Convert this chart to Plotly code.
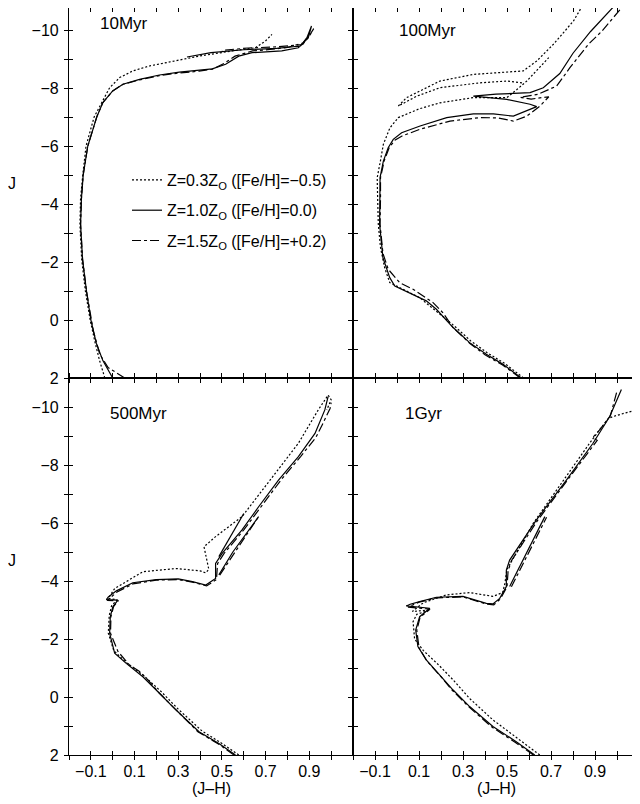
import plotly.graph_objects as go

# ---------------- data (J-H, J) ----------------
# 10 Myr
x10_dot = [-0.036, -0.06, -0.08, -0.103, -0.125, -0.142, -0.15, -0.147, -0.137, -0.122, -0.085, -0.045, -0.014, 0.032, 0.092, 0.168, 0.274, 0.395, 0.547, 0.653, 0.699, 0.729]
j10_dot = [2.0, 1.4, 0.8, 0.0, -1.0, -2.1, -3.3, -4.2, -5.0, -6.0, -7.0, -7.6, -8.01, -8.36, -8.59, -8.76, -8.93, -9.10, -9.28, -9.39, -9.62, -9.85]
x10_sol = [0.00, -0.045, -0.075, -0.10, -0.12, -0.138, -0.147, -0.143, -0.135, -0.114, -0.073, -0.045, 0.0, 0.047, 0.123, 0.214, 0.305, 0.395, 0.456, 0.517, 0.577, 0.638, 0.699, 0.774, 0.85, 0.895, 0.91, 0.89, 0.86, 0.75, 0.6, 0.45, 0.34]
j10_sol = [2.0, 1.4, 0.8, 0.0, -1.0, -2.1, -3.3, -4.2, -5.0, -6.0, -7.0, -7.5, -7.9, -8.13, -8.30, -8.45, -8.55, -8.61, -8.66, -8.82, -9.10, -9.22, -9.25, -9.28, -9.39, -9.73, -10.14, -9.75, -9.45, -9.37, -9.32, -9.22, -9.07]
x10_dd = [0.055, -0.021, -0.059, -0.088, -0.12, -0.138, -0.147, -0.143, -0.135, -0.114, -0.073, -0.045, 0.0, 0.047, 0.123, 0.214, 0.305, 0.395, 0.456, 0.51, 0.56, 0.64, 0.72, 0.80, 0.87, 0.905, 0.92, 0.90, 0.87, 0.75, 0.62, 0.5]
j10_dd = [2.0, 1.64, 1.18, 0.4, -1.0, -2.1, -3.3, -4.2, -5.0, -6.0, -7.0, -7.5, -7.9, -8.13, -8.28, -8.43, -8.52, -8.58, -8.65, -8.85, -9.10, -9.28, -9.33, -9.40, -9.55, -9.85, -10.05, -9.8, -9.5, -9.42, -9.38, -9.3]

# 100 Myr
x100_dot = [0.575, 0.49, 0.41, 0.335, 0.26, 0.179, 0.103, -0.033, -0.056, -0.075, -0.085, -0.088, -0.09, -0.075, -0.062, -0.032, 0.006, 0.1, 0.195, 0.347, 0.499, 0.545, 0.59, 0.69,
            None, 0.568, 0.499, 0.377, 0.195, 0.09, 0.006, 0.044, 0.195, 0.347, 0.574, 0.635, 0.711, 0.802, 0.847]
j100_dot = [2.0, 1.5, 1.13, 0.72, 0.2, -0.31, -0.77, -1.29, -1.8, -2.5, -3.3, -4.2, -4.91, -5.5, -6.06, -6.63, -6.98, -7.28, -7.49, -7.67, -7.67, -7.95, -8.24, -9.05,
            None, -8.18, -8.24, -8.18, -8.01, -7.72, -7.38, -7.67, -8.24, -8.47, -8.59, -8.93, -9.51, -10.31, -10.89]
x100_sol = [0.565, 0.482, 0.406, 0.33, 0.255, 0.179, 0.133, 0.058, -0.01, -0.033, -0.064, -0.079, -0.077, -0.077, -0.062, -0.04, -0.017, 0.021, 0.105, 0.226, 0.347, 0.438, 0.529, 0.59, 0.635, 0.605, 0.499, 0.347, 0.45, 0.605, 0.665, 0.74, 0.80, 0.88, 0.99]
j100_sol = [2.0, 1.53, 1.18, 0.78, 0.26, -0.37, -0.66, -0.94, -1.17, -1.46, -2.15, -3.30, -4.0, -4.91, -5.48, -5.94, -6.23, -6.46, -6.69, -6.98, -7.11, -7.11, -7.03, -7.21, -7.36, -7.44, -7.61, -7.72, -7.79, -7.84, -8.01, -8.5, -9.2, -9.95, -10.85]
x100_dd = [0.56, 0.48, 0.40, 0.33, 0.255, 0.209, 0.164, 0.073, 0.012, -0.04, -0.064, -0.077, -0.075, -0.075, -0.058, -0.035, -0.01, 0.021, 0.105, 0.241, 0.377, 0.46, 0.529, 0.59, 0.65, 0.69, 0.61, 0.56, 0.64, 0.726, 0.786, 0.87, 0.93, 1.03]
j100_dd = [2.0, 1.55, 1.2, 0.8, 0.26, -0.25, -0.60, -1.06, -1.29, -1.75, -2.3, -3.3, -4.2, -4.91, -5.5, -5.95, -6.2, -6.34, -6.58, -6.86, -6.98, -6.97, -6.86, -7.03, -7.38, -7.7, -7.62, -7.68, -7.78, -8.07, -8.70, -9.51, -9.95, -10.85]

# 500 Myr
x500_dot = [0.577, 0.50, 0.41, 0.30, 0.22, 0.14, 0.06, 0.005, -0.02, -0.016, -0.005, 0.02, -0.02, 0.009, 0.138, 0.29, 0.40, 0.426, 0.44, 0.418, 0.471, 0.592, 0.744, 0.85, 0.941, 0.986, 1.0, 0.98]
j500_dot = [2.0, 1.6, 1.18, 0.42, -0.2, -0.75, -1.2, -1.6, -2.2, -2.8, -3.15, -3.35, -3.4, -3.74, -4.32, -4.43, -4.35, -4.28, -4.4, -5.18, -5.53, -6.22, -7.71, -8.75, -9.9, -10.41, -10.25, -9.9]
x500_sol = [0.562, 0.486, 0.395, 0.29, 0.214, 0.138, 0.062, 0.009, -0.014, -0.011, 0.001, 0.024, -0.029, -0.02, 0.017, 0.092, 0.199, 0.30, 0.365, 0.426, 0.471, 0.471, 0.501, 0.592, 0.668, 0.759, 0.85, 0.926, 0.971, 0.986,
            None, 0.486, 0.6, None, 0.486, 0.55, 0.668]
j500_sol = [2.0, 1.60, 1.2, 0.45, -0.13, -0.70, -1.16, -1.51, -2.2, -2.77, -3.12, -3.34, -3.36, -3.45, -3.66, -3.94, -4.05, -4.07, -3.98, -3.86, -4.09, -4.61, -4.95, -5.76, -6.56, -7.48, -8.29, -9.09, -9.9, -10.36,
            None, -4.84, -6.33, None, -4.21, -5.0, -6.22]
x500_dd = [0.555, 0.48, 0.39, 0.29, 0.214, 0.16, 0.123, 0.077, 0.024, -0.01, -0.008, 0.004, 0.026, -0.025, 0.02, 0.092, 0.199, 0.30, 0.365, 0.43, 0.475, 0.48, 0.51, 0.60, 0.678, 0.77, 0.86, 0.93, 0.96, 0.995, 1.0,
           None, 0.49, 0.56, 0.668]
j500_dd = [2.0, 1.6, 1.2, 0.45, -0.13, -0.6, -0.88, -1.1, -1.57, -2.2, -2.77, -3.12, -3.32, -3.33, -3.62, -3.9, -4.03, -4.05, -3.96, -3.83, -4.05, -4.6, -4.95, -5.76, -6.56, -7.48, -8.29, -8.95, -9.4, -9.95, -10.15,
           None, -4.2, -5.0, -6.22]

# 1 Gyr
x1g_dot = [0.649, 0.56, 0.436, 0.33, 0.255, 0.19, 0.12, 0.08, 0.075, 0.073, 0.09, 0.15, 0.07, 0.12, 0.224, 0.33, 0.436, 0.48, 0.49, 0.50, 0.62, 0.76, 0.88, 0.96, 0.982, 1.04, 1.1]
j1g_dot = [2.0, 1.5, 0.79, 0.05, -0.59, -1.1, -1.6, -2.0, -2.4, -2.6, -2.85, -3.0, -2.95, -3.25, -3.52, -3.60, -3.47, -3.6, -3.9, -4.4, -6.0, -7.5, -8.8, -9.6, -9.67, -9.8, -9.92]
x1g_sol = [0.626, 0.542, 0.436, 0.33, 0.255, 0.201, 0.133, 0.095, 0.085, 0.103, 0.149, 0.042, 0.06, 0.103, 0.179, 0.30, 0.406, 0.436, 0.467, 0.497, 0.497, 0.512, 0.633, 0.77, 0.891, 0.967, 1.02,
           None, 0.512, 0.59, 0.672]
j1g_sol = [2.0, 1.54, 1.02, 0.33, -0.24, -0.70, -1.28, -1.74, -2.31, -2.77, -3.06, -3.14, -3.2, -3.29, -3.44, -3.47, -3.23, -3.21, -3.40, -3.81, -4.38, -4.72, -6.10, -7.48, -8.75, -9.67, -10.6,
           None, -3.81, -5.0, -6.22]
x1g_dd = [0.62, 0.535, 0.43, 0.325, 0.25, 0.2, 0.135, 0.1, 0.09, 0.105, 0.15, 0.05, 0.1, 0.18, 0.30, 0.41, 0.44, 0.47, 0.50, 0.505, 0.52, 0.64, 0.775, 0.89, 0.91, 0.89, 0.92, 0.97, 1.0,
          None, 0.52, 0.60, 0.68]
j1g_dd = [2.0, 1.55, 1.03, 0.33, -0.24, -0.7, -1.25, -1.7, -2.3, -2.75, -3.03, -3.1, -3.27, -3.42, -3.45, -3.2, -3.18, -3.38, -3.8, -4.35, -4.7, -6.1, -7.48, -8.65, -8.85, -8.95, -9.2, -9.7, -10.55,
          None, -3.8, -5.0, -6.2]

series_names = ["Z=0.3Z<sub>O</sub> ([Fe/H]=−0.5)",
                "Z=1.0Z<sub>O</sub> ([Fe/H]=0.0)",
                "Z=1.5Z<sub>O</sub> ([Fe/H]=+0.2)"]
panel_titles = ["10Myr", "100Myr", "500Myr", "1Gyr"]
x_tick_vals = [-0.2, -0.1, 0.0, 0.1, 0.2, 0.3, 0.4, 0.5, 0.6, 0.7, 0.8, 0.9, 1.0, 1.1]
x_tick_text = ["", "−0.1", "", "0.1", "", "0.3", "", "0.5", "", "0.7", "", "0.9", "", ""]
y_tick_vals = [-11, -10, -9, -8, -7, -6, -5, -4, -3, -2, -1, 0, 1, 2]
y_tick_text = ["", "−10", "", "−8", "", "−6", "", "−4", "", "−2", "", "0", "", "2"]

panels = [
    (x10_dot, j10_dot, x10_sol, j10_sol, x10_dd, j10_dd),
    (x100_dot, j100_dot, x100_sol, j100_sol, x100_dd, j100_dd),
    (x500_dot, j500_dot, x500_sol, j500_sol, x500_dd, j500_dd),
    (x1g_dot, j1g_dot, x1g_sol, j1g_sol, x1g_dd, j1g_dd),
]

dashes = ["2px,2px", "solid", "9px,3px,3px,3px"]
FONT = "Liberation Sans, Arial, Helvetica, sans-serif"

fig = go.Figure()
for p, data in enumerate(panels):
    ax = "" if p == 0 else str(p + 1)
    for s in range(3):
        fig.add_trace(go.Scatter(
            x=data[2 * s], y=data[2 * s + 1], mode="lines",
            line=dict(color="black", width=1.2, dash=dashes[s]),
            name=series_names[s], showlegend=(p == 0),
            legendgroup="g%d" % s, connectgaps=False,
            xaxis="x" + ax, yaxis="y" + ax, hoverinfo="skip"))

# page has an 8px body margin: figure is sized to fit the window
W, H = 632, 796
ml, mr, mt, mb = 61, 1, 0, 49
PW, PH = W - ml - mr, H - mt - mb
split_x = (345 - ml) / PW
split_y = 377 / PH

doms = [([0, split_x], [split_y, 1]), ([split_x, 1], [split_y, 1]),
        ([0, split_x], [0, split_y]), ([split_x, 1], [0, split_y])]
yranges = [[2, -10.76], [2, -10.76], [2, -11], [2, -11]]

layout = dict(
    width=W, height=H, margin=dict(l=ml, r=mr, t=mt, b=mb),
    paper_bgcolor="white", plot_bgcolor="white",
    font=dict(family=FONT, size=16, color="black"),
    showlegend=True,
    legend=dict(x=(119 - ml) / PW, y=(PH - 155) / PH, xanchor="left", yanchor="top",
                bgcolor="rgba(0,0,0,0)", borderwidth=0, itemwidth=30,
                tracegroupgap=6.5, font=dict(size=16, family=FONT), itemclick=False),
)
for p in range(4):
    ax = "" if p == 0 else str(p + 1)
    ov = str(p + 5)
    xd, yd = doms[p]
    common = dict(showline=True, linecolor="black", linewidth=1.2, mirror="ticks",
                  ticks="inside", ticklen=4, tickwidth=1, tickcolor="black",
                  showgrid=False, zeroline=False, tickmode="array",
                  tickfont=dict(size=16, family=FONT))
    layout["xaxis" + ax] = dict(common, domain=xd, range=[-0.2, 1.1], anchor="y" + ax,
                                tickvals=x_tick_vals, ticktext=x_tick_text,
                                showticklabels=(p >= 2), ticklabelstandoff=2)
    layout["yaxis" + ax] = dict(common, domain=yd, range=yranges[p], anchor="x" + ax,
                                tickvals=y_tick_vals, ticktext=y_tick_text,
                                showticklabels=(p % 2 == 0), ticklabelstandoff=6)
    # overlay axes giving the outward half of the crossing ticks
    outer = dict(showline=False, mirror="ticks", ticks="outside", ticklen=4, tickwidth=1,
                 tickcolor="black", showgrid=False, zeroline=False, showticklabels=False,
                 tickmode="array")
    layout["xaxis" + ov] = dict(outer, overlaying="x" + ax, anchor="y" + ax, range=[-0.2, 1.1],
                                tickvals=x_tick_vals)
    layout["yaxis" + ov] = dict(outer, overlaying="y" + ax, anchor="x" + ax, range=yranges[p],
                                tickvals=y_tick_vals)
    fig.add_trace(go.Scatter(x=[None], y=[None], mode="lines", showlegend=False,
                             xaxis="x" + ov, yaxis="y" + ov, hoverinfo="skip"))
fig.update_layout(**layout)

title_pos = [(-0.068, -10.24), (0.0, -10.0), (-0.023, -9.79), (0.027, -9.78)]
anns = []
for p in range(4):
    ax = "" if p == 0 else str(p + 1)
    anns.append(dict(text=panel_titles[p], x=title_pos[p][0], y=title_pos[p][1],
                     xref="x" + ax, yref="y" + ax, xanchor="left", yanchor="middle",
                     showarrow=False, font=dict(size=17, family=FONT)))
for p in (0, 2):
    ax = "" if p == 0 else str(p + 1)
    anns.append(dict(text="J", x=(4 - ml) / PW, y=-4.7, xref="paper", yref="y" + ax,
                     xanchor="center", yanchor="middle", showarrow=False, font=dict(size=16, family=FONT)))
for p in (2, 3):
    ax = str(p + 1)
    anns.append(dict(text="(J–H)", x=0.45, y=(PH - 781) / PH, xref="x" + ax, yref="paper",
                     xanchor="center", yanchor="middle", showarrow=False, font=dict(size=16, family=FONT)))
fig.update_layout(annotations=anns)

fig.write_html("out.html")
